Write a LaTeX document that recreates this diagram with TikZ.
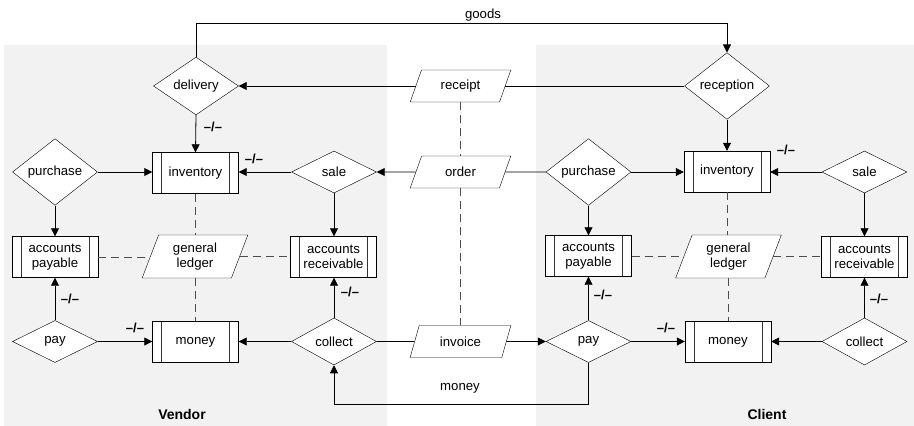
\documentclass[tikz,border=0pt]{standalone}
\usepackage{fontspec}
\setmainfont{Liberation Sans}
\usetikzlibrary{shapes.geometric,arrows.meta}
\definecolor{panel}{HTML}{F2F2F2}
\tikzset{
  base/.style={font=\fontsize{13.2}{15}\selectfont, inner sep=0pt},
  dia/.style={base, diamond, draw, fill=white, minimum width=85pt, minimum height=42pt},
  box/.style={base, rectangle, draw, fill=white, align=center, minimum width=86pt, minimum height=41pt,
    path picture={
      \draw[black!80] ([xshift=9pt]path picture bounding box.north west) -- ([xshift=9pt]path picture bounding box.south west);
      \draw[black!80] ([xshift=-9pt]path picture bounding box.north east) -- ([xshift=-9pt]path picture bounding box.south east);
    }},
  doc/.style={base, trapezium, draw, fill=white, align=center, trapezium stretches=true,
    trapezium left angle=65, trapezium right angle=115, minimum width=101pt, minimum height=32pt},
  ledger/.style={base, trapezium, draw, fill=white, align=center, trapezium stretches=true,
    trapezium left angle=70, trapezium right angle=110, minimum width=106pt, minimum height=43pt},
  ln/.style={line width=0.8pt},
  arr/.style={ln, -{Triangle[length=8pt,width=8pt]}},
  dsh/.style={line width=0.8pt, draw=black!70, dash pattern=on 8pt off 5pt},
  lbl/.style={font=\bfseries\fontsize{13}{15}\selectfont, inner sep=0pt},
  side/.style={font=\bfseries\fontsize{14}{16}\selectfont, inner sep=0pt},
  plain/.style={font=\fontsize{13.2}{15}\selectfont, inner sep=0pt}
}
\begin{document}
\begin{tikzpicture}[x=1pt,y=-1pt]
\useasboundingbox (0,0) rectangle (914,426);
\fill[panel] (4,45) rectangle (387,426);
\fill[panel] (536,45) rectangle (914,426);

% centre column
\node[doc] (receipt) at (460.5,86) {receipt};
\node[doc] (order) at (460.5,172) {order};
\node[doc] (invoice) at (460.5,341.5) {invoice};

% vendor
\node[dia] (delivery) at (196,86) {delivery};
\node[box] (invL) at (195.5,173) {inventory};
\node[dia] (purL) at (55,172) {purchase};
\node[dia] (saleL) at (334,172) {sale};
\node[box] (apL) at (55,257) {accounts\\payable};
\node[ledger] (glL) at (195,256.5) {general\\ledger};
\node[box] (arL) at (333.5,257) {accounts\\receivable};
\node[dia] (payL) at (55,341.5) {pay};
\node[box] (monL) at (195.5,342) {money};
\node[dia] (colL) at (334,341.5) {collect};

% client
\node[dia] (reception) at (727,86) {reception};
\node[box] (invR) at (727,171.5) {inventory};
\node[dia] (purR) at (588.5,172) {purchase};
\node[dia] (saleR) at (864.5,172) {sale};
\node[box] (apR) at (588.5,256) {accounts\\payable};
\node[ledger] (glR) at (728.5,256.5) {general\\ledger};
\node[box] (arR) at (864.5,257) {accounts\\receivable};
\node[dia] (payR) at (588.5,341.5) {pay};
\node[box] (monR) at (728,342) {money};
\node[dia] (colR) at (864.5,341.5) {collect};

% labels
\node[plain] (goods) at (483,15) {goods};
\node[plain] (moneylbl) at (460,388) {money};
\node[side] (vendor) at (182,414) {Vendor};
\node[side] (client) at (767,414) {Client};

% goods / money loops
\draw[arr] (delivery.north) -- ++(0,-34) -| (reception.north);
\draw[arr] (payR.south) -- ++(0,42) -| (colL.south);

% centre connections
\draw[ln] (reception.west) -- (receipt.east);
\draw[arr] (receipt.west) -- (delivery.east);
\draw[ln] (order.east) -- (purR.west);
\draw[arr] (order.west) -- (saleL.east);
\draw[ln] (colL.east) -- (invoice.west);
\draw[arr] (invoice.east) -- (payR.west);
\draw[dsh] (receipt.south) -- (order.north);
\draw[dsh] (order.south) -- (invoice.north);

% vendor connections
\draw[arr] (delivery.south) -- (invL.north);
\draw[arr] (purL.east) -- (purL.east -| invL.west);
\draw[arr] (saleL.west) -- (saleL.west -| invL.east);
\draw[arr] (purL.south) -- (apL.north);
\draw[arr] (saleL.south) -- (saleL.south |- arL.north);
\draw[arr] (payL.north) -- (apL.south);
\draw[arr] (payL.east) -- (payL.east -| monL.west);
\draw[arr] (colL.west) -- (colL.west -| monL.east);
\draw[arr] (colL.north) -- (colL.north |- arL.south);
\draw[dsh] (invL.south) -- (invL.south |- glL.north);
\draw[dsh] (glL.south) -- (glL.south |- monL.north);
\draw[dsh] (apL.east) -- (apL.east -| glL.west);
\draw[dsh] (glL.east) -- (glL.east -| arL.west);

% client connections
\draw[arr] (reception.south) -- (invR.north);
\draw[arr] (purR.east) -- (purR.east -| invR.west);
\draw[arr] (saleR.west) -- (saleR.west -| invR.east);
\draw[arr] (purR.south) -- (apR.north);
\draw[arr] (saleR.south) -- (arR.north);
\draw[arr] (payR.north) -- (apR.south);
\draw[arr] (payR.east) -- (payR.east -| monR.west);
\draw[arr] (colR.west) -- (colR.west -| monR.east);
\draw[arr] (colR.north) -- (arR.south);
\draw[dsh] (invR.south) -- (invR.south |- glR.north);
\draw[dsh] (glR.south) -- (glR.south |- monR.north);
\draw[dsh] (apR.east) -- (apR.east -| glR.west);
\draw[dsh] (glR.east) -- (glR.east -| arR.west);

% -/- marks
\node[lbl] (m1) at (213,127) {–/–};
\node[lbl] (m2) at (254,159) {–/–};
\node[lbl] (m3) at (70,299) {–/–};
\node[lbl] (m4) at (135,328) {–/–};
\node[lbl] (m5) at (350,292) {–/–};
\node[lbl] (m6) at (786,150) {–/–};
\node[lbl] (m7) at (603,295) {–/–};
\node[lbl] (m8) at (666,328) {–/–};
\node[lbl] (m9) at (879,299) {–/–};
\end{tikzpicture}
\end{document}
